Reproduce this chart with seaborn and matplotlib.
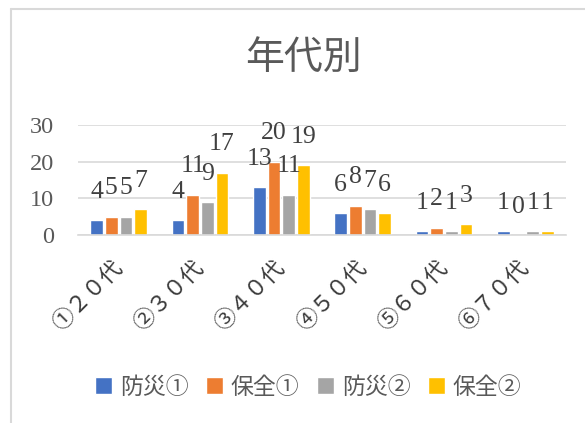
import pandas as pd
import matplotlib.pyplot as plt
import seaborn as sns
from matplotlib.lines import Line2D

# Chart data
categories = ['①２０代', '②３０代', '③４０代', '④５０代', '⑤６０代', '⑥７０代']
series = ['防災①', '保全①', '防災②', '保全②']
bousai1 = [4, 4, 13, 6, 1, 1]
hozen1 = [5, 11, 20, 8, 2, 0]
bousai2 = [5, 9, 11, 7, 1, 1]
hozen2 = [7, 17, 19, 6, 3, 1]
yticks = [0, 10, 20, 30]

colors = ['#4472C4', '#ED7D31', '#A5A5A5', '#FFC000']

# Long-form table for seaborn
df = pd.DataFrame({
    'cat': categories * 4,
    'series': [s for s in series for _ in categories],
    'value': bousai1 + hozen1 + bousai2 + hozen2,
})

sns.set_theme(style='white')
plt.rcParams['font.family'] = ['Liberation Serif', 'Noto Sans CJK JP', 'DejaVu Sans']

fig = plt.figure(figsize=(5.85, 4.23), dpi=100)
ax = fig.add_axes([78 / 585, 1 - 235 / 423, 488 / 585, 110 / 423])

sns.barplot(data=df, x='cat', y='value', hue='series', hue_order=series,
            order=categories, palette=colors, width=0.72, gap=0.13,
            saturation=1, legend=True, ax=ax)

# Data labels above bars
for cont in ax.containers:
    for bar in cont:
        h = bar.get_height()
        ax.annotate(f'{int(h)}', (bar.get_x() + bar.get_width() / 2, h),
                    xytext=(0, 16), textcoords='offset points',
                    ha='center', va='baseline', fontsize=18.5, color='#404040',
                    family=['Liberation Serif', 'DejaVu Serif'])

ax.set_ylim(0, 30)
ax.set_yticks(yticks)
ax.set_yticklabels([str(t) for t in yticks], fontsize=17.5, color='#595959')
ax.tick_params(axis='y', length=0, pad=17)
ax.grid(axis='y', color='#D9D9D9', linewidth=1.2)
ax.set_axisbelow(True)
for side in ['left', 'right', 'top']:
    ax.spines[side].set_visible(False)
ax.spines['bottom'].set_color('#D9D9D9')
ax.spines['bottom'].set_linewidth(1.2)
ax.set_xlabel('')
ax.set_ylabel('')

ax.tick_params(axis='x', length=0, pad=21)
ax.set_xticks(range(len(categories)))
ax.set_xticklabels(categories, rotation=45, ha='right', va='center',
                   rotation_mode='anchor', fontsize=16, color='#3b3b3b',
                   family=['Noto Sans CJK JP', 'DejaVu Sans'])

# Legend below
handles, labels = ax.get_legend_handles_labels()
ax.get_legend().remove()
leg = fig.legend(handles, labels, loc='center', bbox_to_anchor=(308 / 585, 1 - 387 / 423),
                 ncol=4, frameon=False, handlelength=0.75, handleheight=0.75,
                 handletextpad=0.35, columnspacing=0.75,
                 prop={'family': ['Noto Sans CJK JP', 'DejaVu Sans'], 'size': 16.5})
for t in leg.get_texts():
    t.set_color('#595959')

# Title
fig.text(303 / 585, 1 - 58 / 423, '年代別', ha='center', va='center', fontsize=28,
         color='#595959', family=['Noto Sans CJK JP', 'DejaVu Sans'])

# Chart border (top and left edges visible)
fig.add_artist(Line2D([11 / 585, 1], [1 - 9 / 423, 1 - 9 / 423], color='#D9D9D9', lw=1.5))
fig.add_artist(Line2D([11 / 585, 11 / 585], [0, 1 - 9 / 423], color='#D9D9D9', lw=1.5))

fig.savefig('out.png', dpi=100)
